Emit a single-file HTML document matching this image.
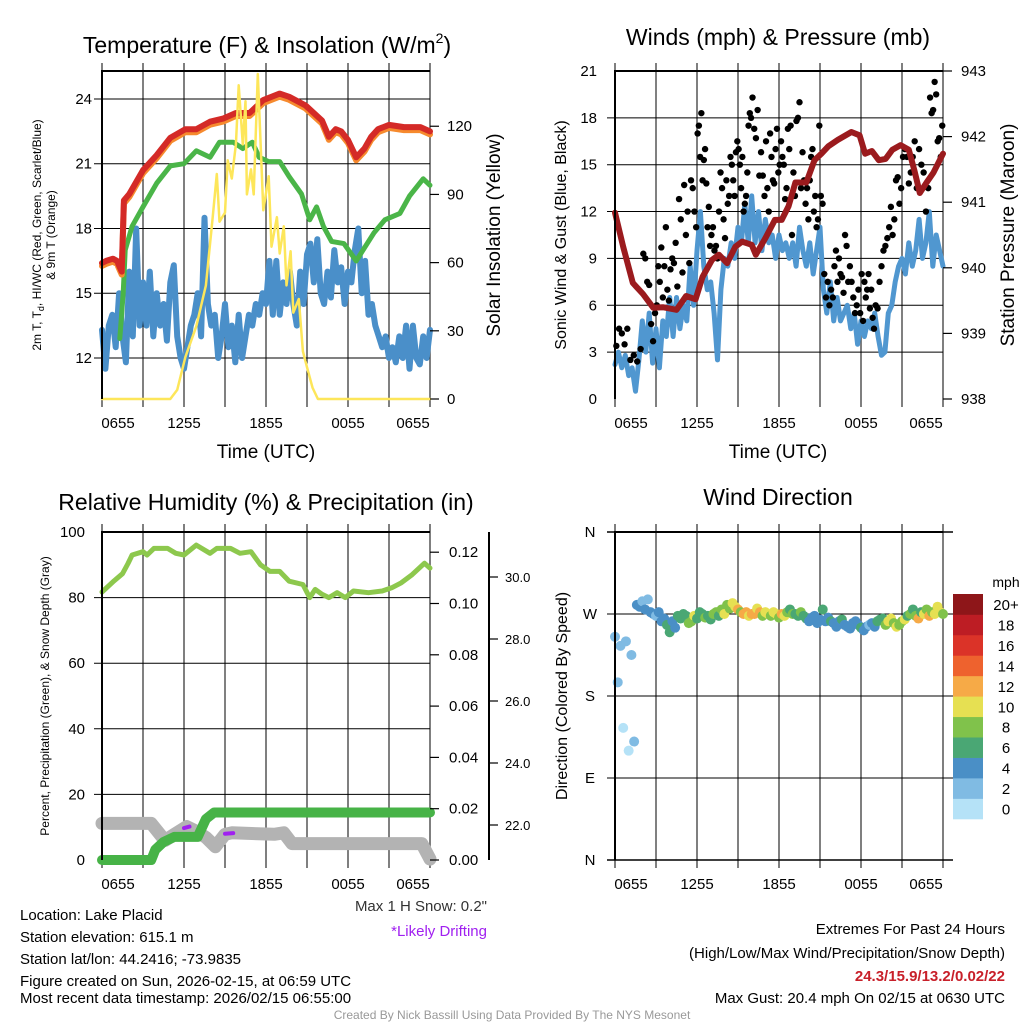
<!DOCTYPE html>
<html><head><meta charset="utf-8"><style>
html,body{margin:0;padding:0;background:#fff;}
svg{display:block;font-family:"Liberation Sans",Arial,sans-serif;}
</style></head><body>
<svg id="chart" width="1024" height="1024" viewBox="0 0 1024 1024" xmlns="http://www.w3.org/2000/svg">
<rect width="1024" height="1024" fill="#fff"/>
<g id="grid"></g>
<g id="series"></g>
<g id="frames"></g>
<g id="labels" font-size="15" fill="#000">
<text x="267" y="53" font-size="23" text-anchor="middle">Temperature (F) &amp; Insolation (W/m<tspan font-size="14" dy="-10">2</tspan><tspan dy="10">)</tspan></text>
<text x="778" y="45" font-size="23" text-anchor="middle">Winds (mph) &amp; Pressure (mb)</text>
<text x="266" y="510" font-size="23" text-anchor="middle">Relative Humidity (%) &amp; Precipitation (in)</text>
<text x="778" y="505" font-size="23" text-anchor="middle">Wind Direction</text>
<text x="266" y="458" font-size="19" text-anchor="middle">Time (UTC)</text>
<text x="778" y="458" font-size="19" text-anchor="middle">Time (UTC)</text>
<text transform="translate(41,235) rotate(-90)" font-size="12" text-anchor="middle">2m T, T<tspan font-size="9" dy="3">d</tspan><tspan dy="-3">, HI/WC (Red, Green, Scarlet/Blue)</tspan></text>
<text transform="translate(55,235) rotate(-90)" font-size="12" text-anchor="middle">&amp; 9m T (Orange)</text>
<text transform="translate(500,235) rotate(-90)" font-size="19" text-anchor="middle">Solar Insolation (Yellow)</text>
<text transform="translate(566,235) rotate(-90)" font-size="16" text-anchor="middle">Sonic Wind &amp; Gust (Blue, Black)</text>
<text transform="translate(1014,235) rotate(-90)" font-size="19" text-anchor="middle">Station Pressure (Maroon)</text>
<text transform="translate(49,696) rotate(-90)" font-size="12" text-anchor="middle">Percent, Precipitation (Green), &amp; Snow Depth (Gray)</text>
<text transform="translate(567,696) rotate(-90)" font-size="16" text-anchor="middle">Direction (Colored By Speed)</text>
<text x="1006" y="587" font-size="14" text-anchor="middle">mph</text>
<text x="487" y="911" font-size="15" text-anchor="end" fill="#333">Max 1 H Snow: 0.2"</text>
<text x="487" y="936" font-size="15" text-anchor="end" fill="#a020f0">*Likely Drifting</text>
<g font-size="15">
<text x="20" y="920">Location: Lake Placid</text>
<text x="20" y="942">Station elevation: 615.1 m</text>
<text x="20" y="964">Station lat/lon: 44.2416; -73.9835</text>
<text x="20" y="986">Figure created on Sun, 2026-02-15, at 06:59 UTC</text>
<text x="20" y="1003">Most recent data timestamp: 2026/02/15 06:55:00</text>
</g>
<g font-size="15" text-anchor="end">
<text x="1005" y="934">Extremes For Past 24 Hours</text>
<text x="1005" y="958">(High/Low/Max Wind/Precipitation/Snow Depth)</text>
<text x="1005" y="981" fill="#c8202a" font-weight="bold">24.3/15.9/13.2/0.02/22</text>
<text x="1005" y="1003">Max Gust: 20.4 mph On 02/15 at 0630 UTC</text>
</g>
<text x="512" y="1019" font-size="12" text-anchor="middle" fill="#999">Created By Nick Bassill Using Data Provided By The NYS Mesonet</text>
</g>
</svg>
<script>
// ---------- data ----------
const timeLabels = ["0655","1255","1855","0055","0655"];
const tempTicks = [12,15,18,21,24];
const solarTicks = [0,30,60,90,120];
const windTicks = [0,3,6,9,12,15,18,21];
const pressTicks = [938,939,940,941,942,943];
const rhTicks = [0,20,40,60,80,100];
const precipTicks = ["0.00","0.02","0.04","0.06","0.08","0.10","0.12"];
const snowTicks = ["22.0","24.0","26.0","28.0","30.0"];
const dirTicks = ["N","W","S","E","N"];
const speedBins = ["0","2","4","6","8","10","12","14","16","18","20+"];
const speedColors = ["#b5e2f7","#80bbe3","#4a8fc6","#4aa774","#80c24b","#e6e052","#f6aa47","#ee622e","#db3328","#bd1d24","#8e1619"];

const redT = [0,16.4, 0.3,16.5, 0.8,16.6, 1.1,16.5, 1.44,16.0, 1.6,19.3, 2.0,19.6, 3.0,20.7, 4.0,21.4, 5.0,22.2, 6.1,22.6, 6.9,22.6, 7.9,22.95, 8.9,23.1, 9.8,23.35, 10.8,23.35, 11.8,23.95, 13.0,24.25, 13.7,24.1, 14.9,23.7, 16.1,23.0, 16.6,22.25, 17.1,22.6, 17.5,22.5, 18.0,22.1, 18.6,21.3, 19.2,21.7, 19.7,22.25, 20.2,22.6, 21.0,22.8, 22.1,22.7, 23.3,22.7, 24.0,22.5];
const greenT = [1.3,12.9, 1.55,15.0, 1.7,17.0, 2.2,18.1, 3.0,19.0, 4.0,20.1, 5.0,20.9, 6.0,21.0, 6.9,21.6, 7.9,21.3, 8.6,22.0, 9.6,22.0, 10.3,21.7, 11.0,22.0, 11.5,21.3, 12.2,21.1, 13.0,21.1, 13.7,20.4, 14.6,19.6, 15.2,18.4, 15.7,19.0, 16.2,18.1, 16.8,17.4, 17.7,17.3, 18.6,16.5, 19.2,17.1, 19.9,17.8, 20.7,18.4, 21.8,18.7, 22.5,19.5, 23.5,20.3, 24.0,20.0];
const blueT = [13.3,11.5,13.5,14.0,12.5,15.0,13.0,11.8,16.0,13.0,18.0,13.5,15.5,13.5,16.0,13.0,15.0,13.5,14.5,12.8,15.5,16.3,13.0,12.0,11.5,12.5,13.5,14.0,15.0,13.0,18.5,14.5,13.5,14.0,12.0,13.0,14.5,12.5,13.5,11.8,14.0,12.0,13.0,14.0,13.5,14.5,14.0,15.0,14.5,16.5,14.0,16.5,14.0,15.5,14.5,16.0,14.5,13.5,16.0,14.5,16.8,17.3,15.5,17.5,15.0,14.5,16.0,14.8,17.0,15.5,16.2,14.5,16.0,15.5,17.0,18.0,15.0,16.5,14.0,14.5,13.5,13.0,12.5,13.0,12.0,12.5,11.8,13.0,12.0,13.5,11.5,13.5,12.0,11.7,13.0,12.0,13.3];
const solar = [0,0, 5.0,0, 5.5,4, 6.1,18.5, 6.9,32, 7.6,50, 8.1,80, 8.4,99, 8.6,78, 9.0,82, 9.2,105, 9.5,97, 9.8,112, 10.0,138, 10.3,112, 10.5,131, 10.6,90, 10.9,101, 11.1,90, 11.4,143, 11.8,83, 12.2,98, 12.4,67, 12.8,80, 13.0,64, 13.3,76, 13.5,50, 13.8,65, 14.0,38, 14.4,44, 14.7,21, 15.0,14, 15.4,5, 15.8,0, 24,0];

const windSp = [2.2,3.0,2.0,2.8,1.5,2.0,0.5,2.5,5.0,3.0,5.5,2.3,4.5,2.0,5.0,4.0,6.5,4.0,6.5,4.5,6.0,5.0,8.5,6.0,9.5,12.0,8.5,7.0,7.5,5.5,2.5,7.0,9.0,8.5,10.0,9.0,11.0,10.0,12.5,10.0,13.0,10.0,12.0,9.5,11.5,10.0,10.5,9.0,10.5,9.5,10.0,9.0,10.0,8.5,11.0,9.5,8.5,10.0,8.0,9.5,11.0,7.0,5.5,7.5,5.0,6.5,5.0,5.5,6.0,4.5,5.5,3.5,5.0,4.0,5.0,4.5,5.5,4.0,2.8,3.0,5.5,6.0,7.5,8.5,9.0,8.0,10.0,8.5,9.5,11.5,9.0,10.0,12.0,8.5,10.5,9.5,8.5];
const gustByHour = [[3.4,4.5,4.2,3.5,4.5],[2.5,2.8,2.4,3.2],[9.3,9.0,7.5,7.3,4.8,3.7,5.5],[6.0,8.5,7.5,9.7,6.5,8.5,11.0,7.0,6.3],[8.3,9.0,8.7,10.0,7.2,12.8,11.5,8.1],[13.7,10.5,12.0,8.7,14.0,13.5,12.0,11.0],[17.0,17.5,15.5,18.3,14.0,15.3,16.0,13.8,11.0,12.3,9.8],[10.5,11.0,9.5,9.8,9.0,12.0,14.5,13.5,11.5],[10.3,14.0,12.5,13.0,15.5,15.0,14.0,13.0,15.8,16.5],[16.0,15.0,13.5,15.5,12.0,12.5,13.0,14.5,17.5,18.3,18.0],[19.3,17.3,16.7,18.5,14.3,15.8,14.3,13.0],[16.5,13.5,12.0,17.0,15.5,14.0,13.8,16.0,17.3,14.5],[15.0,16.5,15.5,15.0,12.8,13.5,17.3,16.0,17.5,10.5],[14.5,13.0,17.8,18.0,19.0,13.5,15.8,14.0,12.5],[13.5,11.5,14.0,15.5,16.0,12.0,13.0,11.0,11.5,17.5],[13.0,12.5,8.0,6.5,7.5,6.0,7.0,6.5],[8.5,9.5,7.5,9.0,8.0,7.8,6.8,10.5,9.8],[7.5,8.5,7.5,6.5,5.5,6.0,7.0,5.5],[8.0,5.0,7.5,6.5,7.0,8.0,5.8,7.0,5.2,4.5],[6.0,5.8,7.5,8.5,9.5,9.8,10.3],[11.0,12.3,10.5,11.5,14.0,14.2,12.5,13.5],[15.5,16.0,15.5,13.8,14.5,15.5,16.5],[13.5,16.0,15.0,14.5,12.0,13.5],[19.3,18.3,18.5,20.3,19.5,16.5,16.7,15.5,17.5]];
const pressure = [0,940.84, 0.6,940.32, 1.3,939.77, 2.05,939.6, 2.8,939.39, 3.5,939.4, 4.5,939.36, 5.2,939.57, 5.9,939.52, 6.4,939.86, 7.1,940.12, 7.6,940.2, 8.2,940.07, 8.8,940.32, 9.3,940.4, 10.0,940.35, 10.3,940.2, 11.0,940.45, 11.7,940.73, 12.2,940.73, 12.7,940.94, 13.2,941.3, 13.6,941.3, 14.0,941.3, 14.6,941.64, 15.1,941.74, 15.6,941.85, 16.3,941.95, 17.3,942.07, 17.9,942.02, 18.3,941.74, 18.8,941.78, 19.3,941.64, 19.8,941.66, 20.3,941.8, 20.9,941.87, 21.5,941.8, 21.9,941.49, 22.3,941.14, 22.8,941.3, 23.3,941.45, 24.0,941.74];

const rh = [0,81.7, 0.8,84.8, 1.5,87.3, 1.9,90.4, 2.2,93, 3.0,94, 3.3,93, 3.8,95, 4.8,95, 5.4,93.5, 6.0,93, 6.9,96, 7.9,93.5, 8.4,95, 9.4,95, 10.1,93.5, 10.9,94, 11.6,90, 12.3,88, 13.0,88, 13.7,85, 14.7,84, 15.2,80, 15.6,82.5, 16.1,81, 16.6,80, 17.2,81.5, 17.8,80, 18.4,82, 19.5,81.5, 20.5,82, 21.2,83, 21.9,84.5, 22.7,87, 23.6,90.5, 24.0,89];
const precip = [0,0, 3.6,0, 3.9,0.004, 4.5,0.007, 5.3,0.009, 7.0,0.009, 7.6,0.016, 8.2,0.0185, 24,0.0185];
const snow = [0,22.05, 3.6,22.05, 4.6,21.5, 5.3,21.7, 6.2,21.95, 6.9,21.8, 7.6,21.6, 8.3,21.3, 9.0,21.7, 9.5,21.75, 12.6,21.7, 13.3,21.75, 13.9,21.4, 23.4,21.4, 24,20.9];
const drift = [[6.0,21.9, 6.4,21.95],[9.0,21.72, 9.6,21.74]];

const dirs = [245,195,235,145,240,120,225,130, 280,278,284,275,286,272,270,268,272,262, 265,258,250,262,255,268,265,270,268,260, 262,268,265,272,270,266,268,264,270,272, 268,275,270,280,276,282,278,275,272,270, 272,268,270,270,276,272,268,272,270,268, 272,270,266,270,268,272,275,270,270,268, 272,268,265,262,266,268,260,264,275,262, 266,262,260,256,262,264,258,256,254,260, 262,258,255,252,256,258,260,256,262,264, 265,258,262,265,260,256,258,262,264,268, 270,275,268,265,272,270,275,268,272,270, 278,272,270];
const dirSpeeds = [2,2,2,1,2,1,2,2, 4,4,3,4,2,4,4,3,4,4, 4,6,6,5,4,6,7,6,7,8, 8,10,6,6,7,8,6,7,8,9, 7,8,10,9,8,11,10,12,8,13, 12,10,12,13,10,12,8,11,10,9, 10,11,8,12,10,9,7,8,6,7, 8,7,6,5,4,5,4,4,6,4, 4,6,4,5,4,6,4,5,4,4, 5,4,6,4,4,3,4,5,6,7, 7,9,10,10,9,10,8,9,10,7, 8,6,9,12,7,10,8,12,9,10, 10,11,9];

// ---------- helpers ----------
const NS = "http://www.w3.org/2000/svg";
function mk(tag, attrs, parent){const e=document.createElementNS(NS,tag);for(const k in attrs)e.setAttribute(k,attrs[k]);parent.appendChild(e);return e;}
const G=document.getElementById('grid'), S=document.getElementById('series'), F=document.getElementById('frames'), L=document.getElementById('labels');
const P1={x0:102,x1:430,y0:71,y1:399}, P2={x0:615,x1:943,y0:71,y1:399}, P3={x0:102,x1:430,y0:532,y1:860}, P4={x0:615,x1:943,y0:532,y1:860};
const xs=(P,h)=>P.x0+h/24*(P.x1-P.x0);
const yTemp=t=>99+(24-t)*21.58, ySolar=v=>399-v*2.273, yWind=v=>399-v*15.62, yPress=p=>399-(p-938)*65.6;
const yRH=r=>860-r*3.28, yPrecip=p=>860-p*2565, ySnow=d=>825-(d-22)*31, yDir=d=>860-d/360*328;
function pairsPath(P,arr,yf){let d="";for(let i=0;i<arr.length;i+=2)d+=(i?"L":"M")+xs(P,arr[i]).toFixed(1)+","+yf(arr[i+1]).toFixed(1);return d;}
function seriesPath(P,vals,yf){let d="";vals.forEach((v,i)=>{d+=(i?"L":"M")+xs(P,i*24/(vals.length-1)).toFixed(1)+","+yf(v).toFixed(1);});return d;}

// ---------- grids & frames ----------
[P1,P2,P3,P4].forEach((P,pi)=>{
  for(let k=0;k<=8;k++){const x=P.x0+k*(P.x1-P.x0)/8;
    const ln=mk('line',{x1:x,x2:x,y1:P.y0-8,y2:P.y1+8,stroke:(k%2?'#000':'#555'),'stroke-width':(k%2?1:1.5)},G);
    
    }
  const lbl=[P.x0+16,P.x0+82,P.x0+164,P.x0+246,P.x1-17];
  timeLabels.forEach((t,i)=>{const tx=mk('text',{x:lbl[i],y:P.y1+29,'font-size':15,'text-anchor':'middle'},L);tx.textContent=t;
    
    });
  const fr=mk('path',{d:`M${P.x0},${P.y1}V${P.y0}H${P.x1}`,fill:'none',stroke:'#000','stroke-width':2},F);
  
  
});
function hgrid(P,y,lab,x,anchor,size){
  const ln=mk('line',{x1:P.x0-8,x2:P.x1,y1:y,y2:y,stroke:'#000','stroke-width':1},G);
  
  
  const tx=mk('text',{x:x,y:y+5,'font-size':size||15,'text-anchor':anchor||'end'},L);tx.textContent=lab;
  
  
}
function rtick(x,y,lab,lx,size){
  const ln=mk('line',{x1:x,x2:x+9,y1:y,y2:y,stroke:'#000','stroke-width':1.2},F);
  
  
  const tx=mk('text',{x:lx,y:y+5,'font-size':size||15,'text-anchor':'start'},L);tx.textContent=lab;
  
  
}
tempTicks.forEach(t=>hgrid(P1,yTemp(t),t,92));
solarTicks.forEach(v=>rtick(430,ySolar(v),v,447));
windTicks.forEach(v=>{ if(v===0||v===21){const tx=mk('text',{x:597,y:yWind(v)+5,'font-size':15,'text-anchor':'end'},L);tx.textContent=v;
  
  } else hgrid(P2,yWind(v),v,597);});
pressTicks.forEach(p=>rtick(943,yPress(p),p,961));
rhTicks.forEach(r=>{ if(r===0||r===100){const tx=mk('text',{x:85,y:yRH(r)+5,'font-size':15,'text-anchor':'end'},L);tx.textContent=r;
  
  } else hgrid(P3,yRH(r),r,85);});
precipTicks.forEach(p=>rtick(430,yPrecip(+p),p,449));
const ax=mk('line',{x1:489,x2:489,y1:532,y2:860,stroke:'#000','stroke-width':2},F);


snowTicks.forEach(d=>rtick(489,ySnow(+d),d,505,13));
dirTicks.forEach((d,i)=>{const y=532+i*82;
  if(i>0&&i<4){const ln=mk('line',{x1:607,x2:953,y1:y,y2:y,stroke:'#000','stroke-width':1},G);
    
    }
  else{const ln=mk('line',{x1:607,x2:953,y1:y,y2:y,stroke:'#000','stroke-width':1.5},G);
    
    }
  const tx=mk('text',{x:590,y:y+5,'font-size':15,'text-anchor':'middle'},L);tx.textContent=d;
  
  });

// ---------- panel 1 ----------
function pth(d,color,w,name){const p=mk('path',{d:d,fill:'none',stroke:color,'stroke-width':w,'stroke-linejoin':'round','stroke-linecap':'round'},S);
  
  return p;}
pth(seriesPath(P1,blueT,yTemp),'#4a8fc9',6,'wind-chill-line');
pth(pairsPath(P1,greenT,yTemp),'#4ab548',5,'dewpoint-line');
pth(pairsPath(P1,redT,t=>yTemp(t)+3),'#f68a2e',6,'temp-9m-line');
pth(pairsPath(P1,redT,yTemp),'#d42a27',6,'temp-2m-line');
pth(pairsPath(P1,solar,ySolar),'#fde65a',2.5,'solar-insolation-line');

// ---------- panel 2 ----------
pth(seriesPath(P2,windSp,yWind),'#5097d0',5,'sonic-wind-line');
gustByHour.forEach((g,hr)=>g.forEach((v,i)=>{
  const h=hr+(i+0.5)/g.length;
  const c=mk('circle',{cx:xs(P2,h),cy:yWind(v),r:3.2,fill:'#000'},S);
  
  }));
pth(pairsPath(P2,pressure,yPress),'#9b1b1e',6,'station-pressure-line');

// ---------- panel 3 ----------
pth(pairsPath(P3,rh,yRH),'#8dc84d',5,'relative-humidity-line');
pth(pairsPath(P3,snow,ySnow),'#b3b3b3',13,'snow-depth-line');
pth(pairsPath(P3,precip,yPrecip),'#47b347',10,'precipitation-line');
drift.forEach(dd=>pth(pairsPath(P3,dd,ySnow),'#a020f0',4,'drifting-segment'));

// ---------- panel 4 ----------
function spColor(s){let i=Math.min(10,Math.floor(s/2));return speedColors[i];}
dirs.forEach((d,i)=>{
  const h=i*24/(dirs.length-1);
  const c=mk('circle',{cx:xs(P4,h),cy:yDir(d),r:5,fill:spColor(dirSpeeds[i])},S);
  
  });
speedBins.forEach((b,i)=>{
  const y=594+(10-i)*20.45;
  const r=mk('rect',{x:953,y:y,width:30,height:20.8,fill:speedColors[i]},S);
  
  
  const tx=mk('text',{x:1006,y:y+16,'font-size':15,'text-anchor':'middle'},L);tx.textContent=b;
  
  });
</script>
</body></html>
